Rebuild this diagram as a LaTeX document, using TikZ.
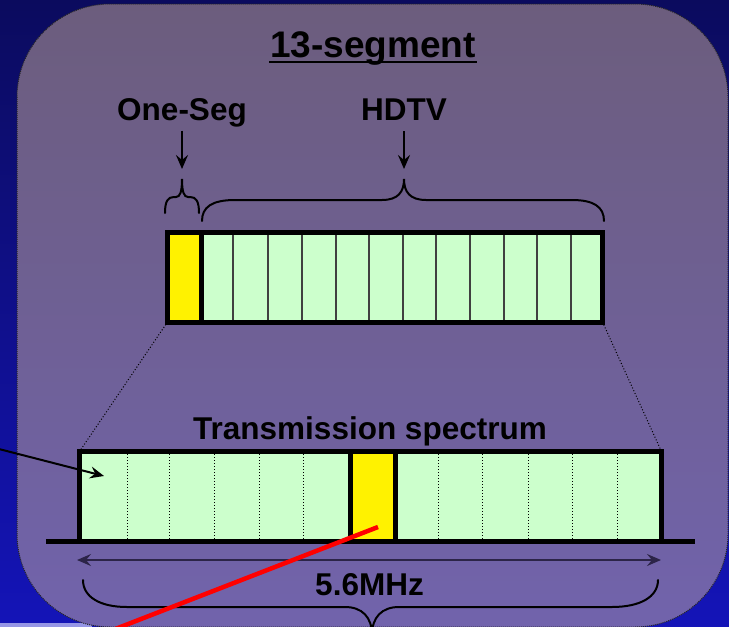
\documentclass[tikz,border=0pt]{standalone}
\usepackage{fontspec}
\setmainfont{Liberation Sans}
\usetikzlibrary{positioning, arrows.meta}

\definecolor{bgTop}{RGB}{11,11,94}
\definecolor{bgBottom}{RGB}{20,20,184}
\definecolor{panelTop}{RGB}{108,93,125}
\definecolor{panelBottom}{RGB}{113,99,172}
\definecolor{segGreen}{RGB}{204,255,204}
\definecolor{bwLine}{RGB}{44,36,72}
\definecolor{stripLight}{RGB}{150,150,230}

\begin{document}
\begin{tikzpicture}[
    x=1pt, y=-1pt,
    >={Stealth[length=14pt, width=12pt, inset=5pt]},
    line width=2pt,
    % Styles for labels, segment blocks and helper lines
    lbl/.style={inner sep=0pt, anchor=base, font=\fontsize{31.5}{36}\selectfont\bfseries},
    seg/.style={rectangle, draw=black, line width=5pt, inner sep=0pt, outer sep=0pt, minimum height=89.5pt},
    oneSeg/.style={seg, fill=yellow},
    hdSeg/.style={seg, fill=segGreen},
    cellLine/.style={line width=1.2pt, draw=black!75},
    subLine/.style={line width=1pt, dotted},
    zoomLine/.style={line width=1pt, dotted},
    bracePath/.style={line width=2pt, line cap=round}
]

  % --- BACKGROUND ---
  \clip (0,0) rectangle (729,627);
  \shade[top color=bgTop, bottom color=bgBottom] (0,0) rectangle (729,627);
  \fill[stripLight] (0,623) rectangle (92,627);
  \shadedraw[top color=panelTop, bottom color=panelBottom, draw=black!85, line width=1pt,
    dash pattern=on 1pt off 1pt, rounded corners=93pt] (17,4) rectangle (728,627);

  % --- TITLE & LABELS ---
  \node[lbl, font=\fontsize{37}{42}\selectfont\bfseries] (title) at (373,57) {13-segment};
  \draw[line width=2.5pt] ([yshift=-5pt]title.base west) -- ([yshift=-5pt]title.base east);

  \node[lbl] (oneseg) at (182,120) {One-Seg};
  \node[lbl] (hdtv) at (404,120) {HDTV};

  \coordinate (osTip) at (182,169);
  \coordinate (hdTip) at (404,169);
  \draw[->, shorten <=3pt] (oneseg) -- (osTip);
  \draw[->, shorten <=10pt] (hdtv) -- (hdTip);

  % --- BRACES ---
  \draw[bracePath] (165,213) .. controls (165,201) and (168,197) .. (174,197) -- (176,197)
    .. controls (180,197) and (182,192) .. (182,179) .. controls (182,192) and (184,197) .. (188,197)
    -- (190,197) .. controls (196,197) and (199,201) .. (199,213);
  \draw[bracePath] (202,221) .. controls (202,207) and (212,200) .. (235,200) -- (382,200)
    .. controls (398,200) and (404,192) .. (404,179) .. controls (404,192) and (410,200) .. (426,200)
    -- (572,200) .. controls (594,200) and (604,207) .. (604,221);

  % --- 13 SEGMENTS ---
  \node[oneSeg, minimum width=33.5pt] (osCell) at (184.25,277.25) {};
  \node[hdSeg, right=0pt of osCell, minimum width=401.5pt] (hdCell) {};
  \foreach \x in {233,268,302,336,369,403,436,470,504,537,571}
    \draw[cellLine] (\x,235) -- (\x,319.5);

  % --- TRANSMISSION SPECTRUM ---
  \node[lbl] (spectrum) at (370,439) {Transmission spectrum};
  \node[hdSeg, minimum width=582pt, minimum height=90pt] (specBar) at (370.5,496.5) {};
  \foreach \x in {127,169,214,259,303,438,482,528,572,617}
    \draw[subLine] (\x,454) -- (\x,539);
  \node[oneSeg, minimum width=45pt, minimum height=90pt] (specOs) at (373,496.5) {};
  \draw[line width=5pt] (46,541.5) -- (695,541.5);

  \draw[zoomLine] (osCell.south west) -- (specBar.north west);
  \draw[zoomLine] (hdCell.south east) -- (specBar.north east);

  % --- BANDWIDTH ---
  \coordinate (bwLeft) at (77,560);
  \coordinate (bwRight) at (661,560);
  \draw[<->, bwLine] (bwLeft) -- (bwRight);
  \node[lbl] (bw) at (369.5,595) {5.6MHz};
  \draw[bracePath] (83,580) .. controls (83,597) and (100,607) .. (127,607) -- (345,607)
    .. controls (362,607) and (372,617) .. (372,635) .. controls (372,617) and (382,607) .. (399,607)
    -- (612,607) .. controls (640,607) and (658,597) .. (658,580);

  % --- POINTERS ---
  \coordinate (ptrFrom) at (-5,448);
  \coordinate (ptrTo) at (104,476);
  \draw[->] (ptrFrom) -- (ptrTo);

  \coordinate (redTop) at (378,527);
  \coordinate (redEnd) at (87,640);
  \draw[red, line width=4.5pt] (redTop) -- (redEnd);

\end{tikzpicture}
\end{document}
